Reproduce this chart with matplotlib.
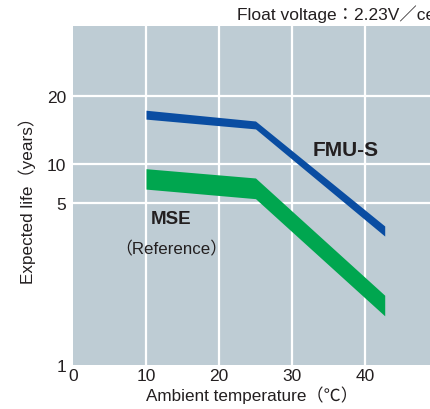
import matplotlib.pyplot as plt
import numpy as np

# data
temps = [10, 25, 42.7]
fmu_upper = [17.3, 15.5, 3.98]
fmu_lower = [15.8, 14.3, 3.60]
mse_upper = [9.2, 7.8, 2.0]
mse_lower = [6.4, 5.4, 1.63]
x_ticks = [0, 10, 20, 30, 40]
y_ticks = [1, 5, 10, 20]

FONT = ['Liberation Sans', 'Noto Sans CJK JP', 'DejaVu Sans']
plt.rcParams['font.family'] = FONT

# the chart's y axis is not a clean log scale, so map it piecewise
_logs = np.log10([1, 5, 10, 20, 50])
_hs = np.array([0, 162, 201, 269, 359.0])


def fwd(y):
    y = np.clip(np.asarray(y, dtype=float), 1e-3, None)
    return np.interp(np.log10(y), _logs, _hs)


def inv(h):
    return 10 ** np.interp(np.asarray(h, dtype=float), _hs, _logs)


fig = plt.figure(figsize=(4.31, 4.10), dpi=100)
ax = fig.add_axes([73 / 431, 44 / 410, 1 - 73 / 431, 339 / 410])
ax.set_yscale('function', functions=(fwd, inv))
ax.set_facecolor('#BECCD4')
ax.set_xlim(0, 358 / 7.3)
ax.set_ylim(1, float(inv(339.0)))

for x in x_ticks[1:]:
    ax.axvline(x, color='white', lw=1.6, zorder=1)
for y in y_ticks[1:]:
    ax.axhline(y, color='white', lw=1.6, zorder=1)

ax.fill_between(temps, fmu_lower, fmu_upper, color='#0A4DA2', lw=0, zorder=3)
ax.fill_between(temps, mse_lower, mse_upper, color='#00A64F', lw=0, zorder=3)

for s in ax.spines.values():
    s.set_visible(False)
ax.set_xticks(x_ticks)
ax.set_yticks(y_ticks)
ax.set_yticklabels([str(v) for v in y_ticks])
ax.yaxis.set_minor_locator(plt.NullLocator())
ax.tick_params(length=0, labelsize=12.5, colors='#231F20')
ax.tick_params(axis='y', pad=5)
ax.tick_params(axis='x', pad=2)

ax.set_xlabel('Ambient temperature（℃）', fontsize=12.3, color='#231F20', labelpad=2)
ax.set_ylabel('Expected life（years）', fontsize=12.3, color='#231F20', labelpad=8)

ax.text(37.3, 11.6, 'FMU-S', fontsize=15, fontweight='bold',
        color='#231F20', ha='center', va='center', zorder=4)
ax.text(13.4, 4.27, 'MSE', fontsize=13.5, fontweight='bold',
        color='#231F20', ha='center', va='center', zorder=4)
ax.text(13.4, 3.2, '（Reference）', fontsize=12.2, color='#231F20',
        ha='center', va='center', zorder=4)

# the reference cuts this title off at the right edge too
fig.text(237 / 431, 1 - 14 / 410, 'Float voltage：2.23V／cell', fontsize=12.5,
         color='#231F20', ha='left', va='center')

fig.savefig('out.png', dpi=100)
